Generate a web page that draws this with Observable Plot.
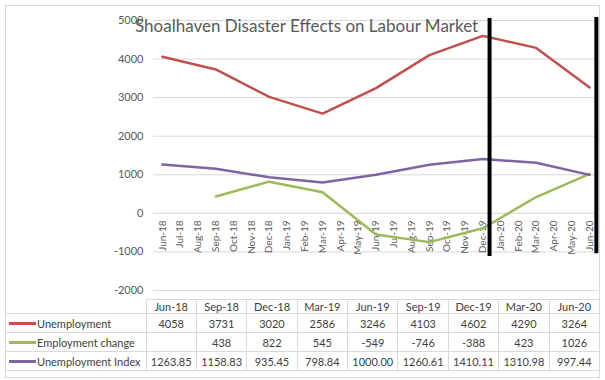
<!DOCTYPE html>
<html>
<head>
<meta charset="utf-8">
<script src="https://cdn.jsdelivr.net/npm/d3@7"></script>
<script src="https://cdn.jsdelivr.net/npm/@observablehq/plot@0.6"></script>
<style>
  html, body { margin: 0; padding: 0; background: #fff; }
  #wrap { position: relative; width: 605px; height: 380px; overflow: hidden; font-family: Lato, "Open Sans", sans-serif; }
  #frame { position: absolute; left: 5px; top: 5px; width: 593px; height: 371px; border: 1px solid #d9d9d9; pointer-events: none; z-index: 3; }
  #title { position: absolute; left: 135px; top: 15px; font-size: 17px; color: #595959; white-space: nowrap; z-index: 2; }
  #chart { position: absolute; left: 0; top: 0; }
  #tbl { position: absolute; left: 6px; top: 299px; border-collapse: collapse; table-layout: fixed; font-size: 11px; color: #404040; z-index: 1; }
  #tbl td { border: 1px solid #d9d9d9; text-align: center; padding: 0; white-space: nowrap; overflow: hidden; }
  #tbl tr.head td { height: 13px; }
  #tbl tr.row td { height: 18px; }
  #tbl td.lab { text-align: left; border-left: none; }
  #tbl td.blank { border: none; border-right: 1px solid #d9d9d9; }
  .key { display: inline-block; width: 27px; height: 2.5px; vertical-align: middle; margin: 0 1px 0 3px; position: relative; top: -1px; }
</style>
</head>
<body>
<div id="wrap">
  <div id="chart"></div>
  <div id="title">Shoalhaven Disaster Effects on Labour Market</div>
  <table id="tbl"></table>
  <div id="frame"></div>
</div>
<script>
// Monthly category labels (x axis)
const months = ["Jun-18","Jul-18","Aug-18","Sep-18","Oct-18","Nov-18","Dec-18","Jan-19","Feb-19","Mar-19","Apr-19","May-19","Jun-19","Jul-19","Aug-19","Sep-19","Oct-19","Nov-19","Dec-19","Jan-20","Feb-20","Mar-20","Apr-20","May-20","Jun-20"];
// Quarterly observation labels and their month index
const quarters = ["Jun-18","Sep-18","Dec-18","Mar-19","Jun-19","Sep-19","Dec-19","Mar-20","Jun-20"];
const quarterIndex = [0, 3, 6, 9, 12, 15, 18, 21, 24];
// Series values
const unemployment = [4058, 3731, 3020, 2586, 3246, 4103, 4602, 4290, 3264];
const employmentChange = [null, 438, 822, 545, -549, -746, -388, 423, 1026];
const unemploymentIndex = [1263.85, 1158.83, 935.45, 798.84, 1000.00, 1260.61, 1410.11, 1310.98, 997.44];
const indexLabels = ["1263.85","1158.83","935.45","798.84","1000.00","1260.61","1410.11","1310.98","997.44"];
// Y ticks
const yTicks = [-2000, -1000, 0, 1000, 2000, 3000, 4000, 5000];
// Hand-drawn event markers (month index, value extent)
const markerMonth = [18.38, 24.38];
const markerTop = [5050, 5080];
const markerBottom = [-1120, -1050];

const seriesNames = ["Unemployment", "Employment change", "Unemployment Index"];
const seriesColors = ["#C0504D", "#9BBB59", "#8064A2"];
const seriesValues = [unemployment, employmentChange, unemploymentIndex];

const lineData = seriesNames.flatMap((name, s) =>
  quarterIndex.map((m, i) => ({series: name, m, v: seriesValues[s][i]})).filter(d => d.v != null));

const monthData = months.map((label, m) => ({label, m}));
const markers = markerMonth.map((m, i) => ({m, y1: markerBottom[i], y2: markerTop[i]}));

const chart = Plot.plot({
  width: 605,
  height: 298,
  marginLeft: 153,
  marginRight: 7,
  marginTop: 20,
  marginBottom: 8,
  style: {background: "transparent", fontFamily: "Lato, 'Open Sans', sans-serif"},
  x: {domain: [-0.5, 24.5], axis: null},
  y: {domain: [-2000, 5000], axis: null},
  color: {domain: seriesNames, range: seriesColors},
  marks: [
    Plot.gridY(yTicks, {stroke: "#d9d9d9", strokeOpacity: 1, strokeWidth: 1}),
    Plot.axisY(yTicks, {tickSize: 0, tickPadding: 10, fontSize: 11, fill: "#595959", tickFormat: d => String(d)}),
    Plot.text(monthData, {x: "m", y: () => 0, text: "label", rotate: -90, textAnchor: "end", lineAnchor: "middle", dy: 7, fontSize: 10, fill: "#595959"}),
    Plot.line(lineData, {x: "m", y: "v", z: "series", stroke: "series", strokeWidth: 2.5, curve: "linear"}),
    Plot.ruleX(markers, {x: "m", y1: "y1", y2: "y2", stroke: "#000", strokeWidth: 4})
  ]
});
document.getElementById("chart").appendChild(chart);

// Data table below the chart, built from the same arrays
const tbl = document.getElementById("tbl");
let html = '<colgroup><col style="width:140px">' + quarters.map(() => '<col style="width:50.4px">').join("") + '</colgroup>';
html += '<tr class="head"><td class="blank"></td>' + quarters.map(q => `<td>${q}</td>`).join("") + '</tr>';
const rowTexts = [
  unemployment.map(String),
  employmentChange.map(v => v == null ? "" : String(v)),
  indexLabels
];
seriesNames.forEach((name, s) => {
  html += `<tr class="row"><td class="lab"><span class="key" style="background:${seriesColors[s]}"></span>${name}</td>` +
    rowTexts[s].map(t => `<td>${t}</td>`).join("") + '</tr>';
});
tbl.innerHTML = html;
</script>
</body>
</html>
